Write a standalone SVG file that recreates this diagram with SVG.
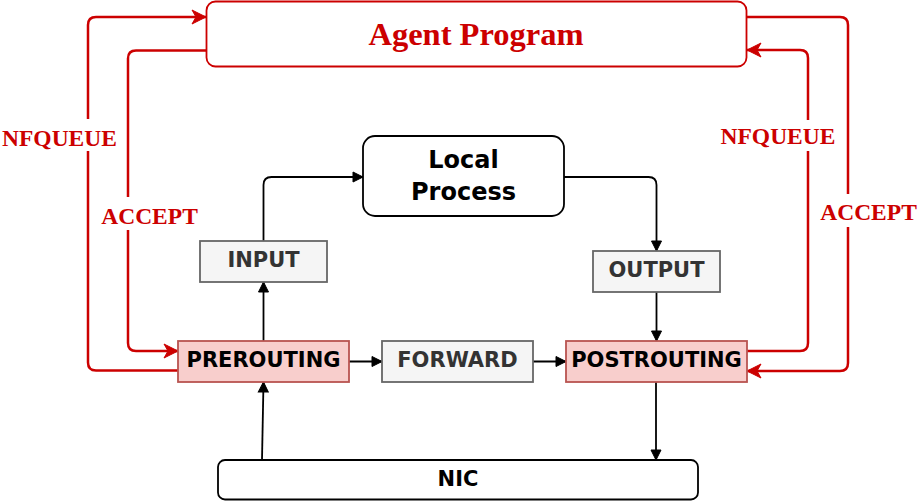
<svg xmlns="http://www.w3.org/2000/svg" width="918" height="501" viewBox="0 0 918 501">
<style>
.red{fill:none;stroke:#CC0000;stroke-width:2.5}
.blk{fill:none;stroke:#000;stroke-width:1.8}
.hook{fill:#f8cecc;stroke:#b85450;stroke-width:1.8}
.tbl{fill:#f5f5f5;stroke:#666666;stroke-width:1.8}
.box{fill:#fff;stroke:#000;stroke-width:1.8}
.t{font-family:"DejaVu Sans",sans-serif;font-weight:bold;font-size:21px;text-anchor:middle}
.big{font-size:24px}
.lbl{font-family:"Liberation Serif","Times New Roman",serif;font-weight:bold;font-size:23.5px;fill:#CC0000;text-anchor:middle}
</style>
<defs>
<marker id="ar" markerUnits="userSpaceOnUse" markerWidth="16" markerHeight="16" viewBox="-15 -8 16 16" refX="0" refY="0" orient="auto" overflow="visible">
<path d="M0,0 L-14,-7 L-10,0 L-14,7 Z" fill="#CC0000" stroke="#CC0000" stroke-width="1"/>
</marker>
<marker id="ab" markerUnits="userSpaceOnUse" markerWidth="14" markerHeight="14" viewBox="-12 -7 14 14" refX="0" refY="0" orient="auto" overflow="visible">
<path d="M0,0 L-10,-5 L-10,5 Z" fill="#000" stroke="#000" stroke-width="1"/>
</marker>
</defs>
<rect width="918" height="501" fill="#fff"/>
<g id="connectors">
<path class="red" d="M178,370.5 H96 Q88,370.5 88,362.5 V25 Q88,17 96,17 H206" marker-end="url(#ar)"/>
<path class="red" d="M206,50.5 H136 Q128,50.5 128,58.5 V343 Q128,351 136,351 H178" marker-end="url(#ar)"/>
<path class="red" d="M747,351 H800 Q808,351 808,343 V58 Q808,50 800,50 H747" marker-end="url(#ar)"/>
<path class="red" d="M747,17 H840 Q848,17 848,25 V363 Q848,371 840,371 H747" marker-end="url(#ar)"/>
<path class="blk" d="M263.5,341 V282" marker-end="url(#ab)"/>
<path class="blk" d="M263.5,241 V185 Q263.5,177 271.5,177 H363" marker-end="url(#ab)"/>
<path class="blk" d="M564,177 H648.5 Q656.5,177 656.5,185 V251" marker-end="url(#ab)"/>
<path class="blk" d="M656.5,292 V341" marker-end="url(#ab)"/>
<path class="blk" d="M349,361.5 H382" marker-end="url(#ab)"/>
<path class="blk" d="M533,361.5 H566" marker-end="url(#ab)"/>
<path class="blk" d="M262,460 L263.5,382" marker-end="url(#ab)"/>
<path class="blk" d="M656,382 V460" marker-end="url(#ab)"/>
<rect x="80" y="119" width="16" height="32" fill="#fff"/>
<rect x="120" y="197" width="16" height="33" fill="#fff"/>
<rect x="800" y="120" width="16" height="31" fill="#fff"/>
<rect x="840" y="194" width="16" height="33" fill="#fff"/>
<text class="lbl" x="59.5" y="145.5">NFQUEUE</text>
<text class="lbl" x="149.5" y="224">ACCEPT</text>
<text class="lbl" x="778" y="144">NFQUEUE</text>
<text class="lbl" x="868.5" y="220">ACCEPT</text>
</g>
<g id="agent">
<rect x="206.5" y="1.5" width="540" height="65" rx="9" fill="#fff" stroke="#CC0000" stroke-width="1.8"/>
<text x="476" y="45" font-family="Liberation Serif,'Times New Roman',serif" font-weight="bold" font-size="32.5" fill="#CC0000" text-anchor="middle">Agent Program</text>
</g>
<g id="local-process">
<rect x="363" y="136" width="201" height="80" rx="12" class="box"/>
<text class="t big" x="463.5" y="168">Local</text>
<text class="t big" x="463.5" y="200">Process</text>
</g>
<g id="input">
<rect x="200" y="241" width="127" height="41" class="tbl"/>
<text class="t" x="263.5" y="267" fill="#333">INPUT</text>
</g>
<g id="output">
<rect x="593" y="251" width="127" height="41" class="tbl"/>
<text class="t" x="656.5" y="277" fill="#333">OUTPUT</text>
</g>
<g id="prerouting">
<rect x="178" y="341" width="171" height="41" class="hook"/>
<text class="t" x="263.5" y="367">PREROUTING</text>
</g>
<g id="forward">
<rect x="382" y="341" width="151" height="41" class="tbl"/>
<text class="t" x="457.5" y="367" fill="#333">FORWARD</text>
</g>
<g id="postrouting">
<rect x="566" y="341" width="181" height="41" class="hook"/>
<text class="t" x="656.5" y="367">POSTROUTING</text>
</g>
<g id="nic">
<rect x="218" y="460" width="480" height="39.5" rx="7" class="box"/>
<text class="t" x="458" y="486">NIC</text>
</g>
</svg>
